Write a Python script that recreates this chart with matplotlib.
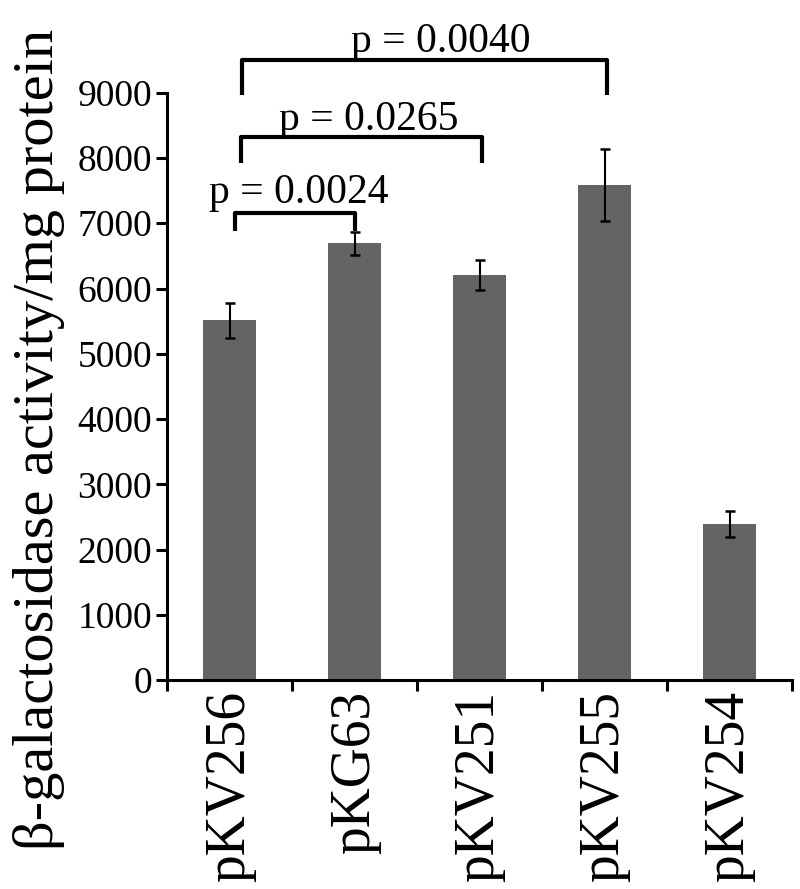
import matplotlib.pyplot as plt
import numpy as np

plt.rc('font', family='Liberation Serif')

strains = ['pKV256', 'pKG63', 'pKV251', 'pKV255', 'pKV254']
activity = [5510, 6690, 6200, 7590, 2390]
sd = [265, 170, 230, 555, 195]

p_labels = ['p = 0.0024', 'p = 0.0265', 'p = 0.0040']
# bracket: x left, x right, tip y, bar y ; text x, text y
brackets = [(0.04, 1.00, 6876, 7156), (0.09, 2.02, 7922, 8321), (0.10, 3.02, 8964, 9500)]
p_pos = [(0.55, 7310), (1.11, 8428), (1.69, 9623)]

fig = plt.figure(figsize=(8, 8.89), dpi=100)
ax = fig.add_axes([0.209, 0.235, 0.781, 0.6607])

x = np.arange(len(strains))
ax.bar(x, activity, width=0.42, color='#646464', zorder=2)
ax.errorbar(x, activity, yerr=sd, fmt='none', ecolor='black',
            elinewidth=1.5, capsize=3.5, capthick=1.8, zorder=3)

for (x0, x1, yt, yh), lab, (tx, ty) in zip(brackets, p_labels, p_pos):
    ax.plot([x0, x0, x1, x1], [yt, yh, yh, yt], color='black', lw=3,
            clip_on=False, solid_joinstyle='round', solid_capstyle='butt')
    ax.text(tx, ty, lab, ha='center', va='baseline', fontsize=30, clip_on=False)

ax.set_xlim(-0.5, 4.5)
ax.set_ylim(0, 9000)
ax.set_yticks(range(0, 9001, 1000))
ax.tick_params(axis='y', labelsize=27, width=2.2, length=8, pad=3)

ax.set_xticks(np.arange(-0.5, 5, 1))
ax.set_xticklabels([])
ax.set_xticks(x, minor=True)
ax.set_xticklabels(strains, minor=True, rotation=90, fontsize=40)
ax.tick_params(axis='x', which='major', width=2.2, length=8)
ax.tick_params(axis='x', which='minor', length=0, pad=8)

for s in ['top', 'right']:
    ax.spines[s].set_visible(False)
for s in ['left', 'bottom']:
    ax.spines[s].set_linewidth(2.2)

ax.set_ylabel(u'\u03b2-galactosidase activity/mg protein', fontsize=42)
ax.yaxis.set_label_coords(-0.163, 0.41)

plt.savefig('out.png', dpi=100)
